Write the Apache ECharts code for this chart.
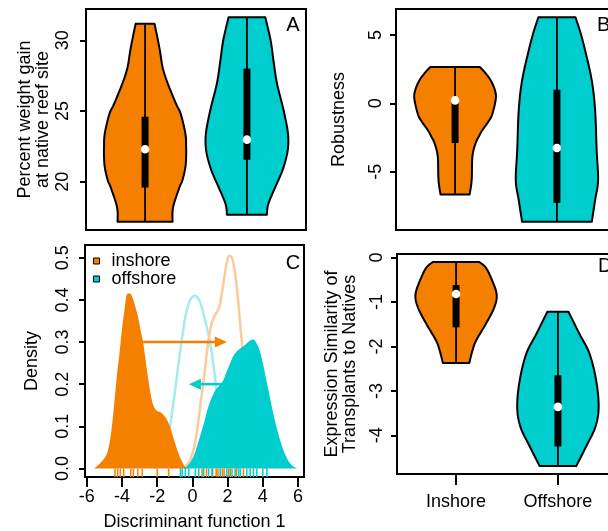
<!DOCTYPE html>
<html>
<head>
<meta charset="utf-8">
<script src="https://cdn.jsdelivr.net/npm/echarts@6/dist/echarts.min.js"></script>
<style>
  html, body { margin: 0; padding: 0; background: #fff; }
  #chart { width: 608px; height: 531px; }
</style>
</head>
<body>
<div id="chart"></div>
<script>
const ORANGE = '#F58000';
const TEAL = '#00CDCD';
const ORANGE_LIGHT = '#FBCB9C';
const TEAL_LIGHT = '#A6ECEC';
const FONT = 'Liberation Sans';

const groupLabels = ['Inshore', 'Offshore'];
const groupPositions = [1, 2];

// Violin outlines: [value, half width in group units], bottom to top.
// Box statistics: [lower, q1, median, q3, upper].

// A: percent weight gain at native reef site
const weightTicks = [20, 25, 30];
const weightInshoreShape = [[17.18, 0.27], [18.2, 0.275], [19.6, 0.337], [20.1, 0.366], [21.0, 0.395], [21.75, 0.403], [22.5, 0.403], [23.4, 0.396], [24.8, 0.35], [25.5, 0.305], [27.0, 0.22], [28.1, 0.172], [29.3, 0.145], [30.4, 0.115], [31.16, 0.093]];
const weightOffshoreShape = [[17.68, 0.196], [18.44, 0.21], [19.62, 0.278], [20.3, 0.32], [21.04, 0.36], [22.2, 0.40], [23.4, 0.403], [25.06, 0.36], [26.95, 0.295], [28.5, 0.262], [30.02, 0.232], [31.63, 0.18]];
const weightInshoreStats = [17.18, 19.6, 22.3, 24.6, 31.16];
const weightOffshoreStats = [17.68, 21.56, 22.98, 28.0, 31.63];

// B: robustness
const robustTicks = [-5, 0, 5];
const robustInshoreShape = [[-6.66, 0.143], [-5.6, 0.163], [-3.9, 0.17], [-2.95, 0.2], [-2.4, 0.235], [-1.97, 0.267], [-1.3, 0.33], [-0.8, 0.365], [0.34, 0.40], [1.0, 0.39], [1.68, 0.35], [2.2, 0.30], [2.65, 0.245]];
const robustOffshoreShape = [[-8.66, 0.342], [-7.08, 0.375], [-5.62, 0.404], [-3.43, 0.39], [-0.51, 0.375], [1.68, 0.342], [3.87, 0.277], [5.2, 0.23], [6.3, 0.182]];
const robustInshoreStats = [-6.66, -2.9, 0.22, 0.4, 2.65];
const robustOffshoreStats = [-8.66, -7.28, -3.26, 1.0, 6.3];

// D: expression similarity of transplants to natives
const simTicks = [-4, -3, -2, -1, 0];
const simInshoreShape = [[-2.37, 0.13], [-2.1, 0.16], [-1.87, 0.196], [-1.49, 0.293], [-1.12, 0.375], [-0.82, 0.398], [-0.45, 0.342], [-0.22, 0.29], [-0.1, 0.228]];
const simOffshoreShape = [[-4.69, 0.18], [-4.25, 0.277], [-3.81, 0.368], [-3.36, 0.40], [-2.76, 0.375], [-2.16, 0.31], [-1.72, 0.212], [-1.22, 0.104]];
const simInshoreStats = [-2.37, -1.57, -0.82, -0.62, -0.1];
const simOffshoreStats = [-4.69, -4.25, -3.36, -2.65, -1.22];

// C: density along discriminant function 1
const dfTicks = [-6, -4, -2, 0, 2, 4, 6];
const densityTicks = [0, 0.1, 0.2, 0.3, 0.4, 0.5];
const inshoreDensity = [[-5.6, 0], [-5.4, 0.006], [-5.2, 0.014], [-5.0, 0.024], [-4.8, 0.042], [-4.6, 0.09], [-4.45, 0.149], [-4.3, 0.215], [-4.15, 0.27], [-4.0, 0.33], [-3.85, 0.378], [-3.7, 0.414], [-3.55, 0.415], [-3.4, 0.405], [-3.25, 0.385], [-3.1, 0.362], [-2.95, 0.33], [-2.8, 0.3], [-2.65, 0.255], [-2.5, 0.21], [-2.35, 0.172], [-2.2, 0.148], [-2.0, 0.136], [-1.8, 0.133], [-1.6, 0.125], [-1.4, 0.112], [-1.2, 0.09], [-1.0, 0.062], [-0.8, 0.037], [-0.6, 0.017], [-0.45, 0.006], [-0.3, 0]];
const offshoreDensity = [[-0.5, 0], [-0.3, 0.006], [-0.1, 0.016], [0.1, 0.032], [0.3, 0.058], [0.5, 0.085], [0.7, 0.115], [0.9, 0.145], [1.1, 0.168], [1.3, 0.185], [1.5, 0.195], [1.7, 0.205], [1.9, 0.225], [2.1, 0.245], [2.3, 0.265], [2.5, 0.277], [2.7, 0.284], [2.9, 0.29], [3.1, 0.297], [3.3, 0.304], [3.45, 0.306], [3.6, 0.3], [3.8, 0.283], [4.0, 0.25], [4.2, 0.21], [4.4, 0.17], [4.6, 0.13], [4.8, 0.095], [5.0, 0.065], [5.2, 0.04], [5.4, 0.022], [5.6, 0.01], [5.8, 0.003], [6.0, 0]];
const inshoreTransplantDensity = [[-0.5, 0], [-0.3, 0.008], [-0.1, 0.022], [0.1, 0.05], [0.3, 0.1], [0.5, 0.165], [0.7, 0.23], [0.9, 0.3], [1.1, 0.345], [1.3, 0.365], [1.5, 0.38], [1.65, 0.41], [1.8, 0.45], [1.95, 0.487], [2.1, 0.505], [2.25, 0.5], [2.4, 0.47], [2.55, 0.42], [2.7, 0.35], [2.85, 0.28], [3.0, 0.21], [3.2, 0.13], [3.4, 0.07], [3.7, 0.025], [4.0, 0.005], [4.3, 0]];
const offshoreTransplantDensity = [[-2.2, 0], [-1.9, 0.01], [-1.6, 0.035], [-1.4, 0.07], [-1.25, 0.105], [-1.1, 0.15], [-0.95, 0.195], [-0.8, 0.245], [-0.65, 0.29], [-0.5, 0.335], [-0.35, 0.37], [-0.2, 0.392], [-0.05, 0.405], [0.1, 0.41], [0.25, 0.408], [0.4, 0.398], [0.55, 0.38], [0.7, 0.355], [0.85, 0.33], [1.0, 0.3], [1.15, 0.26], [1.3, 0.21], [1.45, 0.16], [1.6, 0.115], [1.8, 0.07], [2.0, 0.04], [2.3, 0.015], [2.6, 0]];
const inshoreShift = [[-2.8, 0.3], [1.96, 0.3]];
const offshoreShift = [[1.7, 0.2], [-0.2, 0.2]];
const inshoreNativeRug = [-4.4, -4.25, -4.1, -3.9, -3.5, -3.35, -3.1, -2.85, -2.0, -1.35];
const inshoreTransplantRug = [0.55, 0.8, 1.15, 1.35, 1.45, 1.7, 1.8, 2.05, 2.25, 2.5, 2.9];
const offshoreTransplantRug = [-0.68, -0.58, -0.4, -0.21, 0.17, 0.36, 0.64, 0.92, 1.11];
const offshoreNativeRug = [1.58, 1.96, 2.15, 2.43, 2.62, 2.72, 3.09, 3.28, 3.47, 3.66, 4.0, 4.23];

const densityMin = -0.0204;

// Catmull-Rom curve through pixel points, for drawing smooth outlines
function spline(pts, steps) {
  const out = [];
  for (let i = 0; i < pts.length - 1; i++) {
    const p0 = pts[i - 1] || pts[i], p1 = pts[i], p2 = pts[i + 1], p3 = pts[i + 2] || pts[i + 1];
    for (let s = 0; s < steps; s++) {
      const t = s / steps, t2 = t * t, t3 = t2 * t;
      out.push([0, 1].map(k => 0.5 * (2 * p1[k] + (-p0[k] + p2[k]) * t +
        (2 * p0[k] - 5 * p1[k] + 4 * p2[k] - p3[k]) * t2 +
        (-p0[k] + 3 * p1[k] - 3 * p2[k] + p3[k]) * t3)));
    }
  }
  out.push(pts[pts.length - 1]);
  return out;
}

function violinSeries(idx, shapes, stats) {
  const colors = [ORANGE, TEAL];
  return {
    type: 'custom',
    xAxisIndex: idx, yAxisIndex: idx,
    data: groupPositions.map((p, i) => [p, stats[i][0], stats[i][4]]),
    encode: { x: 0, y: [1, 2] },
    renderItem(params, api) {
      const i = params.dataIndex, pos = api.value(0), shape = shapes[i], st = stats[i];
      const right = spline(shape.map(([v, w]) => api.coord([pos + w, v])), 10);
      const left = spline(shape.slice().reverse().map(([v, w]) => api.coord([pos - w, v])), 10);
      const lo = api.coord([pos, st[0]]), q1 = api.coord([pos, st[1]]);
      const med = api.coord([pos, st[2]]), q3 = api.coord([pos, st[3]]), hi = api.coord([pos, st[4]]);
      return {
        type: 'group',
        children: [
          { type: 'polygon', shape: { points: right.concat(left) },
            style: { fill: colors[i], stroke: '#000', lineWidth: 2, lineJoin: 'round' } },
          { type: 'line', shape: { x1: hi[0], y1: hi[1], x2: lo[0], y2: lo[1] },
            style: { stroke: '#000', lineWidth: 1.8 } },
          { type: 'rect', shape: { x: q3[0] - 3.5, y: q3[1], width: 7, height: q1[1] - q3[1] },
            style: { fill: '#000' } },
          { type: 'circle', shape: { cx: med[0], cy: med[1], r: 4.3 }, style: { fill: '#fff' } }
        ]
      };
    }
  };
}

function arrowSeries(seg, color) {
  return {
    type: 'custom', xAxisIndex: 2, yAxisIndex: 2, z: 4,
    data: [[seg[0][0], seg[0][1], seg[1][0], seg[1][1]]],
    encode: { x: [0, 2], y: [1, 3] },
    renderItem(params, api) {
      const a = api.coord([api.value(0), api.value(1)]);
      const b = api.coord([api.value(2), api.value(3)]);
      const len = Math.hypot(b[0] - a[0], b[1] - a[1]);
      const ux = (b[0] - a[0]) / len, uy = (b[1] - a[1]) / len;
      const head = 12, half = 5.5;
      const bx = b[0] - ux * head, by = b[1] - uy * head;
      return {
        type: 'group',
        children: [
          { type: 'line', shape: { x1: a[0], y1: a[1], x2: bx, y2: by }, style: { stroke: color, lineWidth: 2.5 } },
          { type: 'polygon', shape: { points: [[b[0], b[1]], [bx - uy * half, by + ux * half], [bx + uy * half, by - ux * half]] },
            style: { fill: color } }
        ]
      };
    }
  };
}

function rugSeries(xs, color) {
  return {
    type: 'custom', xAxisIndex: 2, yAxisIndex: 2, z: 4,
    data: xs.map(x => [x, 0]),
    encode: { x: 0, y: 1 },
    renderItem(params, api) {
      const p0 = api.coord([api.value(0), densityMin]);
      const p1 = api.coord([api.value(0), 0]);
      return { type: 'line', shape: { x1: p0[0], y1: p0[1], x2: p1[0], y2: p1[1] },
        style: { stroke: color, lineWidth: 1.5 } };
    }
  };
}

function densitySeries(name, data, color, filled, z) {
  const s = {
    name, type: 'line', xAxisIndex: 2, yAxisIndex: 2, z,
    data, smooth: 0.4, showSymbol: false, color,
    itemStyle: { color },
    lineStyle: { color, width: filled ? 0 : 2.5 }
  };
  if (filled) s.areaStyle = { color, opacity: 1, origin: 'auto' };
  return s;
}

const txt = { color: '#000', fontSize: 18, fontFamily: FONT };
const gridBase = { show: true, borderColor: '#000', borderWidth: 2, backgroundColor: 'transparent', containLabel: false, outerBoundsMode: 'none' };
const noLine = { show: false, onZero: false };

function yAxisFor(idx, min, max, ticks, name, gap, margin, fmt) {
  return {
    type: 'value', gridIndex: idx, min, max, position: 'left',
    axisLine: noLine,
    splitLine: { show: false },
    axisTick: { show: true, length: 6, customValues: ticks, lineStyle: { color: '#000', width: 2 } },
    axisLabel: { rotate: 90, margin, customValues: ticks, formatter: fmt, ...txt },
    name, nameLocation: 'middle', nameRotate: 90, nameGap: gap, nameMoveOverlap: false,
    nameTextStyle: { ...txt, lineHeight: 18 }
  };
}

function groupAxis(idx, showLabels) {
  return {
    type: 'value', gridIndex: idx, min: 0.42, max: 2.58, position: 'bottom',
    axisLine: noLine, splitLine: { show: false },
    axisTick: { show: showLabels, length: 11, customValues: groupPositions, lineStyle: { color: '#000', width: 2 } },
    axisLabel: { show: showLabels, margin: 19, customValues: groupPositions,
      formatter: v => groupLabels[groupPositions.indexOf(v)], ...txt }
  };
}

const chart = echarts.init(document.getElementById('chart'), null, { renderer: 'canvas' });
chart.setOption({
  animation: false,
  backgroundColor: '#fff',
  textStyle: { fontFamily: FONT },
  grid: [
    { ...gridBase, left: 86, top: 9, width: 220, height: 221 },
    { ...gridBase, left: 396, top: 9, width: 220, height: 221 },
    { ...gridBase, left: 85, top: 245, width: 219, height: 232 },
    { ...gridBase, left: 397, top: 254, width: 220, height: 220 }
  ],
  xAxis: [
    groupAxis(0, false),
    groupAxis(1, false),
    {
      type: 'value', gridIndex: 2, min: -6.1, max: 6.34, position: 'bottom',
      axisLine: noLine, splitLine: { show: false },
      axisTick: { show: true, length: 10, customValues: dfTicks, lineStyle: { color: '#000', width: 2 } },
      axisLabel: { margin: 11, customValues: dfTicks, ...txt },
      name: 'Discriminant function 1', nameLocation: 'middle', nameGap: 36, nameMoveOverlap: false,
      nameTextStyle: txt
    },
    groupAxis(3, true)
  ],
  yAxis: [
    yAxisFor(0, 16.6, 32.21, weightTicks, 'Percent weight gain\nat native reef site', 34, 14),
    yAxisFor(1, -9.26, 6.9, robustTicks, 'Robustness', 48, 11),
    yAxisFor(2, densityMin, 0.5304, densityTicks, 'Density', 44, 13, v => v.toFixed(1)),
    yAxisFor(3, -4.87, 0.08, simTicks, 'Expression Similarity of\nTransplants to Natives', 38, 11)
  ],
  legend: {
    data: ['inshore', 'offshore'], orient: 'vertical', left: 93, top: 252,
    itemWidth: 6, itemHeight: 6, itemGap: 0, icon: 'rect', padding: 0, selectedMode: false,
    itemStyle: { borderColor: '#000', borderWidth: 1 },
    textStyle: { ...txt, padding: [0, 0, 0, 7] }
  },
  series: [
    violinSeries(0, [weightInshoreShape, weightOffshoreShape], [weightInshoreStats, weightOffshoreStats]),
    violinSeries(1, [robustInshoreShape, robustOffshoreShape], [robustInshoreStats, robustOffshoreStats]),
    violinSeries(3, [simInshoreShape, simOffshoreShape], [simInshoreStats, simOffshoreStats]),
    densitySeries('offshore transplanted', offshoreTransplantDensity, TEAL_LIGHT, false, 2),
    densitySeries('inshore transplanted', inshoreTransplantDensity, ORANGE_LIGHT, false, 2),
    densitySeries('inshore', inshoreDensity, ORANGE, true, 3),
    densitySeries('offshore', offshoreDensity, TEAL, true, 3),
    arrowSeries(inshoreShift, ORANGE),
    arrowSeries(offshoreShift, TEAL),
    rugSeries(inshoreNativeRug, ORANGE),
    rugSeries(inshoreTransplantRug, ORANGE),
    rugSeries(offshoreTransplantRug, TEAL),
    rugSeries(offshoreNativeRug, TEAL)
  ],
  graphic: [
    { type: 'text', x: 293, y: 25, style: { text: 'A', fill: '#000', fontSize: 20, fontFamily: FONT, align: 'center', verticalAlign: 'middle' } },
    { type: 'text', x: 597, y: 25, style: { text: 'B', fill: '#000', fontSize: 20, fontFamily: FONT, align: 'left', verticalAlign: 'middle' } },
    { type: 'text', x: 293, y: 263, style: { text: 'C', fill: '#000', fontSize: 20, fontFamily: FONT, align: 'center', verticalAlign: 'middle' } },
    { type: 'text', x: 598, y: 266, style: { text: 'D', fill: '#000', fontSize: 20, fontFamily: FONT, align: 'left', verticalAlign: 'middle' } }
  ]
});
</script>
</body>
</html>
